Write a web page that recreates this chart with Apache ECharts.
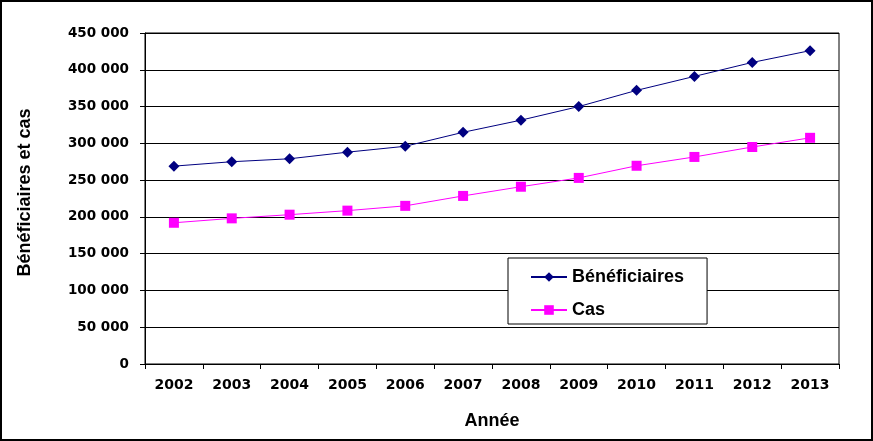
<!DOCTYPE html>
<html><head><meta charset="utf-8">
<script src="https://cdn.jsdelivr.net/npm/echarts@6/dist/echarts.min.js"></script>
<style>html,body{margin:0;padding:0;background:#fff}#c{width:873px;height:441px}</style>
</head><body><div id="c"></div>
<script>
const categories = ['2002','2003','2004','2005','2006','2007','2008','2009','2010','2011','2012','2013'];
const beneficiaires = [269000, 275000, 279000, 288000, 296000, 315000, 331500, 350000, 372000, 391000, 410000, 426000];
const cas = [192000, 198000, 203000, 208500, 215000, 228500, 241000, 253000, 269500, 281500, 295000, 307500];
const yTicks = [0, 50000, 100000, 150000, 200000, 250000, 300000, 350000, 400000, 450000];

const fmt = v => v === 0 ? '0' : String(v).replace(/\B(?=(\d{3})+(?!\d))/g, '\u00a0');
const font = '"Liberation Sans", Arial, sans-serif';
const tickFont = '"DejaVu Sans", sans-serif';
const chart = echarts.init(document.getElementById('c'));
chart.setOption({
  animation: false,
  backgroundColor: '#fff',
  graphic: [{type:'rect', shape:{x:1,y:1,width:871,height:439}, style:{fill:'none', stroke:'#000', lineWidth:2}, z:100}],
  grid: {left:145, right:34, top:33, bottom:77, show:true, borderColor:'#000', borderWidth:1},
  legend: {
    orient:'vertical', left:508, top:258,
    padding:[10,23,5,22], itemGap:15, itemWidth:36, itemHeight:12,
    backgroundColor:'#fff', borderColor:'#000', borderWidth:1,
    textStyle:{fontFamily:font, fontWeight:'bold', fontSize:18, color:'#000'},
    data:['Bénéficiaires','Cas']
  },
  xAxis: {
    type:'category', data:categories, boundaryGap:true,
    name:'Année', nameLocation:'middle', nameGap:48,
    nameTextStyle:{fontFamily:font, fontWeight:'bold', fontSize:18, color:'#000'},
    axisLine:{lineStyle:{color:'#000', width:1}},
    axisTick:{show:true, length:5, lineStyle:{color:'#000'}, alignWithLabel:false},
    axisLabel:{margin:14, fontFamily:tickFont, fontWeight:'bold', fontSize:14, color:'#000'}
  },
  yAxis: {
    type:'value', min:yTicks[0], max:yTicks[yTicks.length-1], interval:50000,
    name:'Bénéficiaires et cas', nameLocation:'middle', nameGap:111, nameRotate:90,
    nameTextStyle:{fontFamily:font, fontWeight:'bold', fontSize:18, color:'#000', padding:[0,0,0,12]},
    axisLine:{show:true, lineStyle:{color:'#000', width:1}},
    axisTick:{show:true, length:5, lineStyle:{color:'#000'}},
    splitLine:{show:true, lineStyle:{color:'#000', width:1}},
    axisLabel:{margin:16, fontFamily:tickFont, fontWeight:'bold', fontSize:13.5, color:'#000', formatter:fmt}
  },
  series: [
    {name:'Bénéficiaires', type:'line', data:beneficiaires, symbol:'diamond', symbolSize:11,
     itemStyle:{color:'#000080'}, lineStyle:{color:'#000080', width:1}},
    {name:'Cas', type:'line', data:cas, symbol:'rect', symbolSize:10,
     itemStyle:{color:'#FF00FF'}, lineStyle:{color:'#FF00FF', width:1}}
  ]
});
</script></body></html>
